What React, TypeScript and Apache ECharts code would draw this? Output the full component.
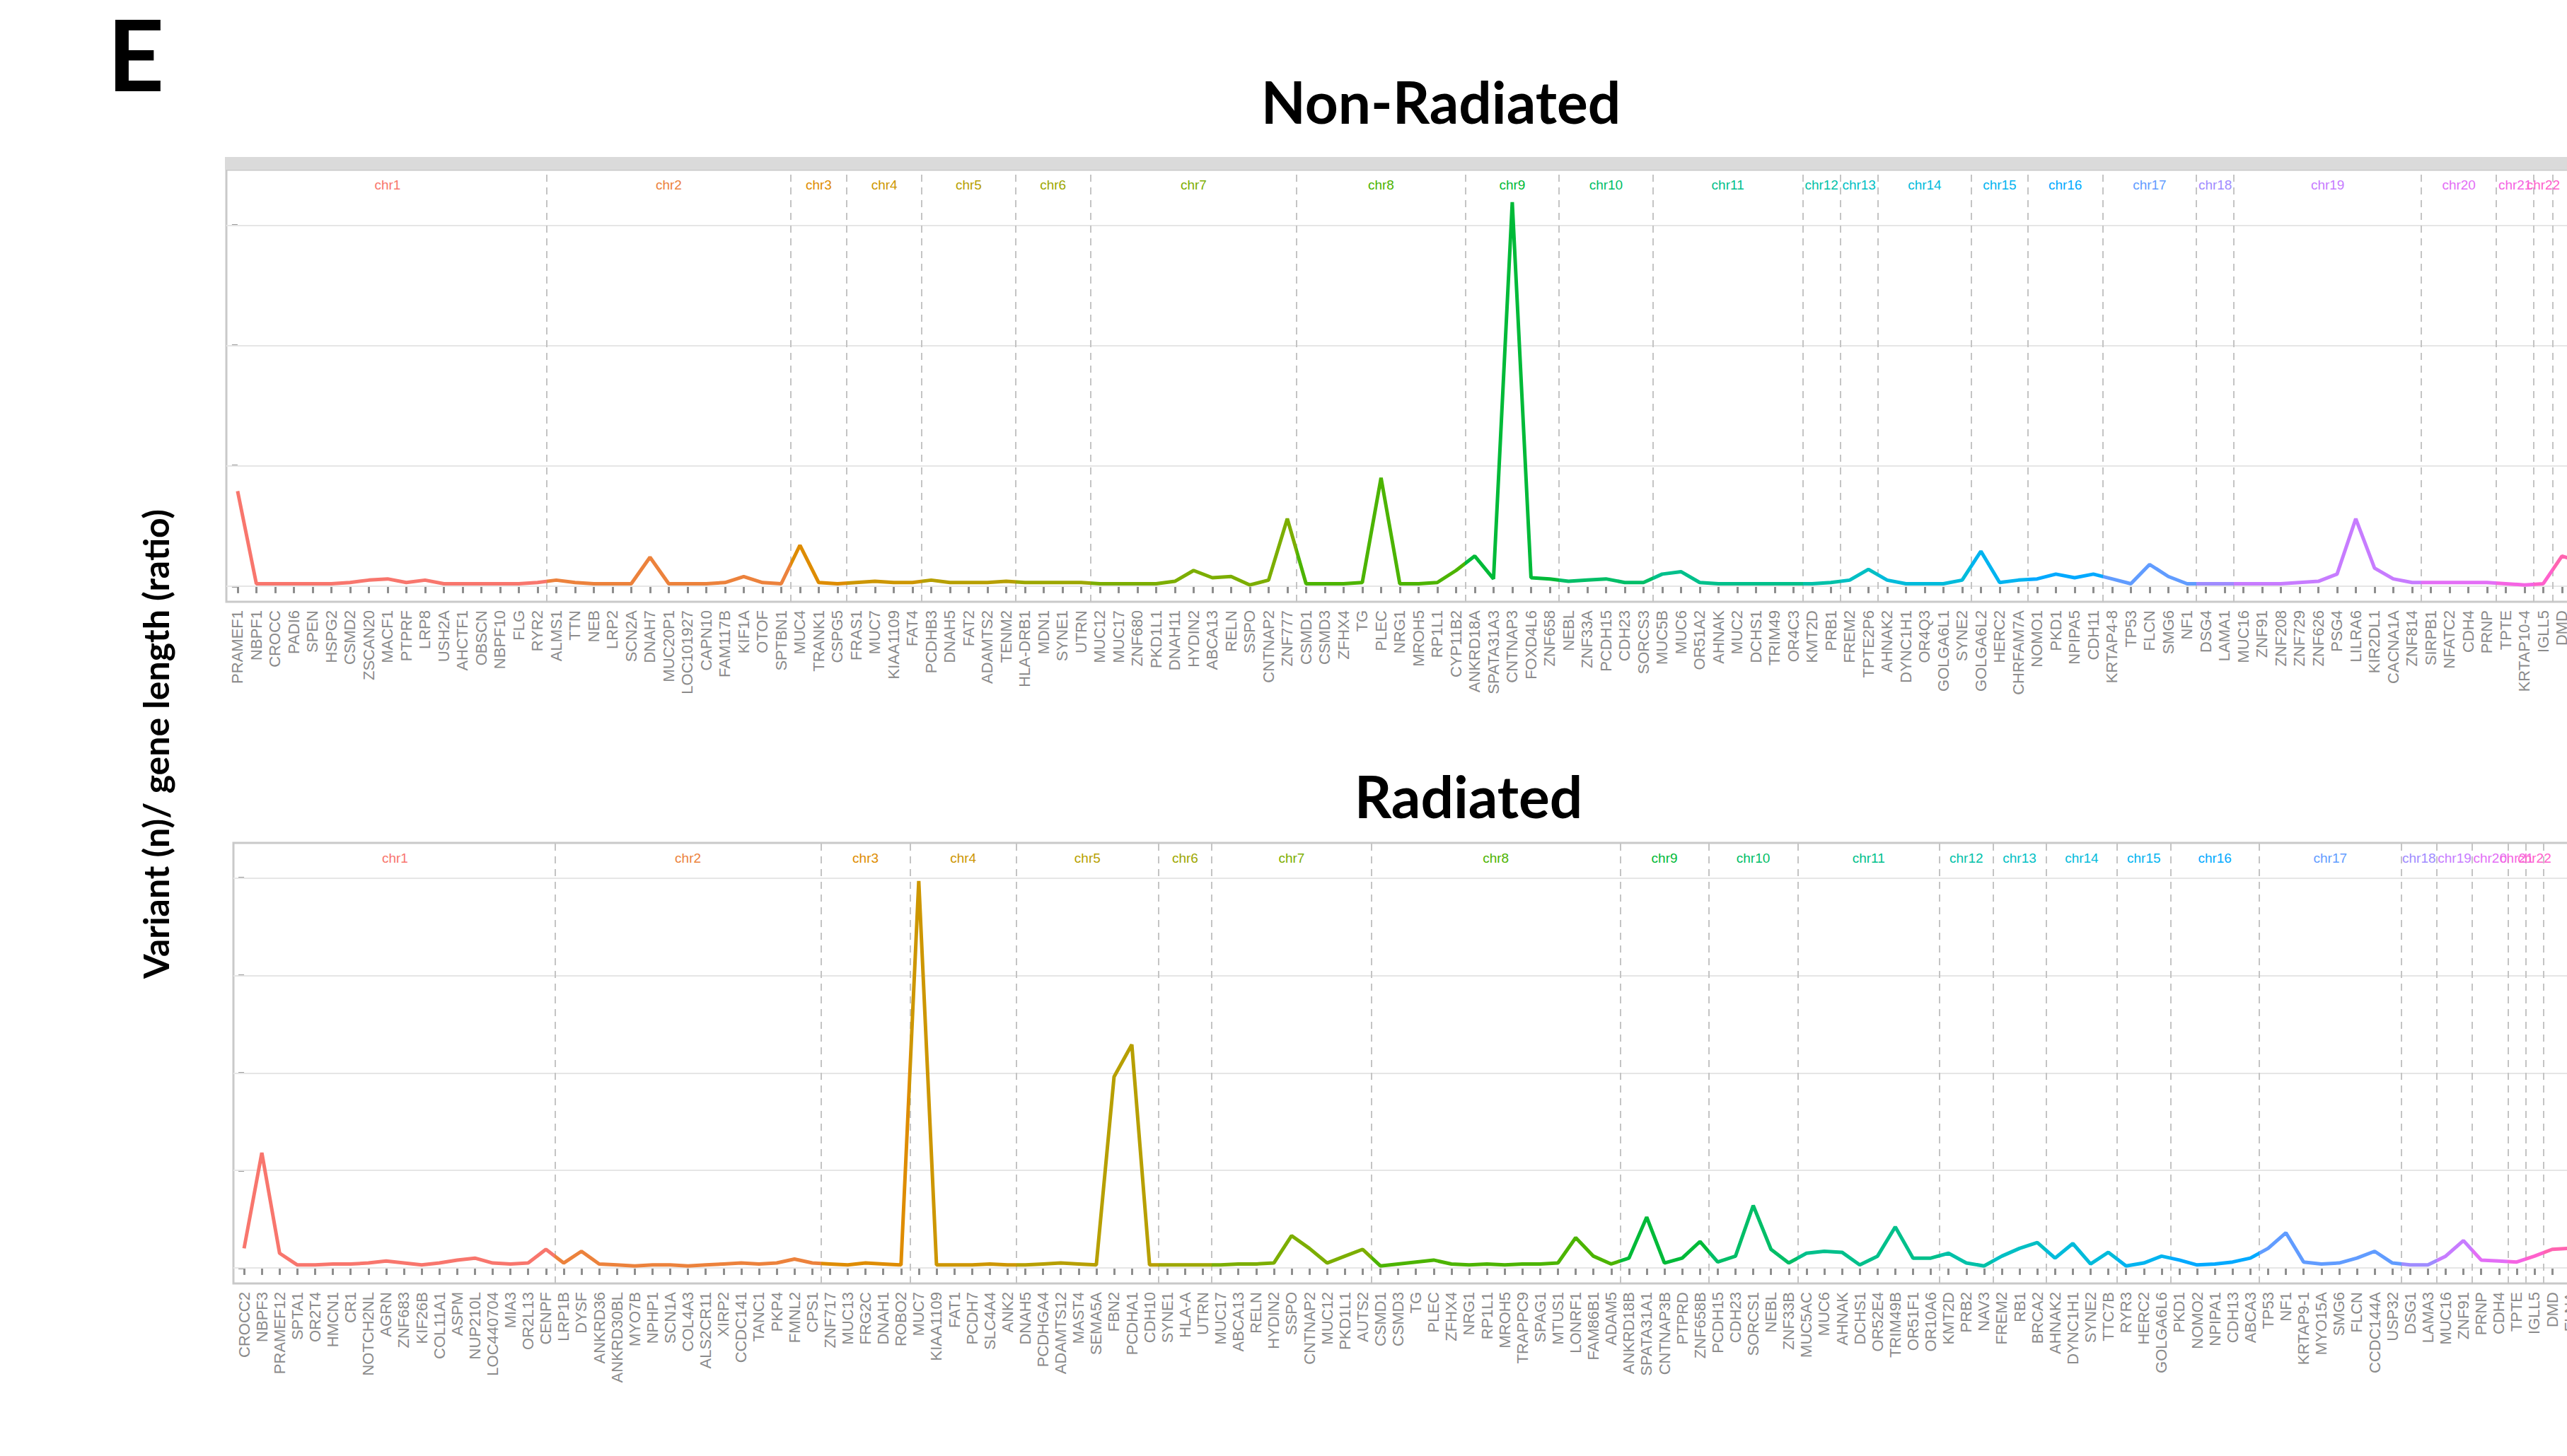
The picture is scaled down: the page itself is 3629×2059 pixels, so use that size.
import React, { useEffect, useRef } from "react";
import * as echarts from "echarts";

// ---------- DATA ----------
const CHR_NAMES = [
  "chr1", "chr2", "chr3", "chr4", "chr5", "chr6", "chr7", "chr8", "chr9", "chr10", "chr11", "chr12",
  "chr13", "chr14", "chr15", "chr16", "chr17", "chr18", "chr19", "chr20", "chr21", "chr22", "chrX",
];
const CHR_COLORS = [
  "#F8766D", "#EC823C", "#DE8C00", "#CD9600", "#B79F00", "#9DA700", "#7CAE00", "#4CB400",
  "#00BA38", "#00BE67", "#00C08B", "#00C1A8", "#00BFC4", "#00BBDB", "#00B4F0", "#00A9FF",
  "#619CFF", "#9F8CFF", "#C77CFF", "#E36EF6", "#F564E3", "#FF61CC", "#FF64B0",
];

// genes per chromosome (in CHR_NAMES order)
const TOP_COUNTS = [17, 13, 3, 4, 5, 4, 11, 9, 5, 5, 8, 2, 2, 5, 3, 4, 5, 2, 10, 4, 2, 1, 6];
const BOTTOM_COUNTS = [18, 15, 5, 6, 8, 3, 9, 14, 5, 5, 8, 3, 3, 4, 3, 5, 8, 2, 2, 2, 1, 1, 9];

const TOP_GENES = [
  "PRAMEF1", "NBPF1", "CROCC", "PADI6", "SPEN", "HSPG2", "CSMD2", "ZSCAN20", "MACF1", "PTPRF", "LRP8", "USH2A", "AHCTF1", "OBSCN", "NBPF10", "FLG", "RYR2",
  "ALMS1", "TTN", "NEB", "LRP2", "SCN2A", "DNAH7", "MUC20P1", "LOC101927", "CAPN10", "FAM117B", "KIF1A", "OTOF", "SPTBN1",
  "MUC4", "TRANK1", "CSPG5",
  "FRAS1", "MUC7", "KIAA1109", "FAT4",
  "PCDHB3", "DNAH5", "FAT2", "ADAMTS2", "TENM2",
  "HLA-DRB1", "MDN1", "SYNE1", "UTRN",
  "MUC12", "MUC17", "ZNF680", "PKD1L1", "DNAH11", "HYDIN2", "ABCA13", "RELN", "SSPO", "CNTNAP2", "ZNF777",
  "CSMD1", "CSMD3", "ZFHX4", "TG", "PLEC", "NRG1", "MROH5", "RP1L1", "CYP11B2",
  "ANKRD18A", "SPATA31A3", "CNTNAP3", "FOXD4L6", "ZNF658",
  "NEBL", "ZNF33A", "PCDH15", "CDH23", "SORCS3",
  "MUC5B", "MUC6", "OR51A2", "AHNAK", "MUC2", "DCHS1", "TRIM49", "OR4C3",
  "KMT2D", "PRB1",
  "FREM2", "TPTE2P6",
  "AHNAK2", "DYNC1H1", "OR4Q3", "GOLGA6L1", "SYNE2",
  "GOLGA6L2", "HERC2", "CHRFAM7A",
  "NOMO1", "PKD1", "NPIPA5", "CDH11",
  "KRTAP4-8", "TP53", "FLCN", "SMG6", "NF1",
  "DSG4", "LAMA1",
  "MUC16", "ZNF91", "ZNF208", "ZNF729", "ZNF626", "PSG4", "LILRA6", "KIR2DL1", "CACNA1A", "ZNF814",
  "SIRPB1", "NFATC2", "CDH4", "PRNP",
  "TPTE", "KRTAP10-4",
  "IGLL5",
  "DMD", "XIST", "FLNA", "MAGEC1", "SSX3", "OPHN1",
];

const BOTTOM_GENES = [
  "CROCC2", "NBPF3", "PRAMEF12", "SPTA1", "OR2T4", "HMCN1", "CR1", "NOTCH2NL", "AGRN", "ZNF683", "KIF26B", "COL11A1", "ASPM", "NUP210L", "LOC440704", "MIA3", "OR2L13", "CENPF",
  "LRP1B", "DYSF", "ANKRD36", "ANKRD30BL", "MYO7B", "NPHP1", "SCN1A", "COL4A3", "ALS2CR11", "XIRP2", "CCDC141", "TANC1", "PKP4", "FMNL2", "CPS1",
  "ZNF717", "MUC13", "FRG2C", "DNAH1", "ROBO2",
  "MUC7", "KIAA1109", "FAT1", "PCDH7", "SLC4A4", "ANK2",
  "DNAH5", "PCDHGA4", "ADAMTS12", "MAST4", "SEMA5A", "FBN2", "PCDHA1", "CDH10",
  "SYNE1", "HLA-A", "UTRN",
  "MUC17", "ABCA13", "RELN", "HYDIN2", "SSPO", "CNTNAP2", "MUC12", "PKD1L1", "AUTS2",
  "CSMD1", "CSMD3", "TG", "PLEC", "ZFHX4", "NRG1", "RP1L1", "MROH5", "TRAPPC9", "SPAG1", "MTUS1", "LONRF1", "FAM86B1", "ADAM5",
  "ANKRD18B", "SPATA31A1", "CNTNAP3B", "PTPRD", "ZNF658B",
  "PCDH15", "CDH23", "SORCS1", "NEBL", "ZNF33B",
  "MUC5AC", "MUC6", "AHNAK", "DCHS1", "OR52E4", "TRIM49B", "OR51F1", "OR10A6",
  "KMT2D", "PRB2", "NAV3",
  "FREM2", "RB1", "BRCA2",
  "AHNAK2", "DYNC1H1", "SYNE2", "TTC7B",
  "RYR3", "HERC2", "GOLGA6L6",
  "PKD1", "NOMO2", "NPIPA1", "CDH13", "ABCA3",
  "TP53", "NF1", "KRTAP9-1", "MYO15A", "SMG6", "FLCN", "CCDC144A", "USP32",
  "DSG1", "LAMA3",
  "MUC16", "ZNF91",
  "PRNP", "CDH4",
  "TPTE",
  "IGLL5",
  "DMD", "FLNA", "MAGEC1", "SSX1", "OPHN1", "XIST", "TSPAN7", "HUWE1", "ATRX",
];

// Variant (n) / gene length (ratio), one value per gene
const TOP_VALUES = [
  0.79, 0.02, 0.02, 0.02, 0.02, 0.02, 0.03, 0.05, 0.06, 0.03, 0.05, 0.02, 0.02, 0.02, 0.02, 0.02, 0.03,
  0.05, 0.03, 0.02, 0.02, 0.02, 0.24, 0.02, 0.02, 0.02, 0.03, 0.08, 0.03, 0.02,
  0.34, 0.03, 0.02,
  0.03, 0.04, 0.03, 0.03,
  0.05, 0.03, 0.03, 0.03, 0.04,
  0.03, 0.03, 0.03, 0.03,
  0.02, 0.02, 0.02, 0.02, 0.04, 0.13, 0.07, 0.08, 0.01, 0.05, 0.56,
  0.02, 0.02, 0.02, 0.03, 0.9, 0.02, 0.02, 0.03, 0.13,
  0.25, 0.06, 3.19, 0.07, 0.06,
  0.04, 0.05, 0.06, 0.03, 0.03,
  0.1, 0.12, 0.03, 0.02, 0.02, 0.02, 0.02, 0.02,
  0.02, 0.03,
  0.05, 0.14,
  0.05, 0.02, 0.02, 0.02, 0.05,
  0.29, 0.03, 0.05,
  0.06, 0.1, 0.07, 0.1,
  0.06, 0.02, 0.18, 0.08, 0.02,
  0.02, 0.02,
  0.02, 0.02, 0.02, 0.03, 0.04, 0.1, 0.56, 0.15, 0.06, 0.03,
  0.03, 0.03, 0.03, 0.03,
  0.02, 0.01,
  0.02,
  0.25, 0.2, 0.12, 0.08, 0.1, 0.06,
];

const BOTTOM_VALUES = [
  0.2, 1.18, 0.15, 0.03, 0.03, 0.04, 0.04, 0.05, 0.07, 0.05, 0.03, 0.05, 0.08, 0.1, 0.05, 0.04, 0.05, 0.19,
  0.05, 0.17, 0.04, 0.03, 0.02, 0.03, 0.03, 0.02, 0.03, 0.04, 0.05, 0.04, 0.05, 0.09, 0.05,
  0.04, 0.03, 0.05, 0.04, 0.03,
  3.97, 0.03, 0.03, 0.03, 0.04, 0.03,
  0.03, 0.04, 0.05, 0.04, 0.03, 1.96, 2.29, 0.03,
  0.03, 0.03, 0.03,
  0.03, 0.04, 0.04, 0.05, 0.33, 0.2, 0.05, 0.12, 0.19,
  0.02, 0.04, 0.06, 0.08, 0.04, 0.03, 0.04, 0.03, 0.04, 0.04, 0.05, 0.31, 0.12, 0.04,
  0.1, 0.52, 0.05, 0.1, 0.27,
  0.06, 0.12, 0.64, 0.19, 0.05,
  0.15, 0.17, 0.16, 0.03, 0.12, 0.42, 0.1, 0.1,
  0.15, 0.05, 0.02,
  0.12, 0.2, 0.26,
  0.1, 0.25, 0.04, 0.16,
  0.02, 0.05, 0.12,
  0.08, 0.03, 0.04, 0.06, 0.1,
  0.2, 0.36, 0.06, 0.04, 0.05, 0.1, 0.17, 0.05,
  0.03, 0.03,
  0.12, 0.28,
  0.08, 0.07,
  0.06,
  0.12,
  0.19, 0.2, 0.15, 0.1, 0.08, 0.06, 0.1, 0.07, 0.05,
];

const TOP_Y_GRID = [0, 1, 2, 3];
const BOTTOM_Y_GRID = [0, 1, 2, 3, 4];

const TITLE_TOP = "Non-Radiated";
const TITLE_BOTTOM = "Radiated";
const Y_TITLE = "Variant (n)/ gene length (ratio)";
const PANEL_TAG = "E";

// ---------- LAYOUT ----------
const CHART_W = 3900;
const CHART_H = 2059;
const TOP_PANEL = { left: 320, top: 240, height: 611, step: 26.5, yMin: -0.13, yMax: 3.46 };
const BOTTOM_PANEL = { left: 330, top: 1192, height: 623, step: 25.1, yMin: -0.16, yMax: 4.36 };

function chrRanges(counts: number[]) {
  const out: { name: string; color: string; start: number; end: number }[] = [];
  let s = 0;
  counts.forEach((c, k) => {
    out.push({ name: CHR_NAMES[k], color: CHR_COLORS[k], start: s, end: s + c - 1 });
    s += c;
  });
  return out;
}

function buildPanel(idx: number, panel: any, counts: number[], genes: string[], values: number[], yGrid: number[]) {
  const n = values.length;
  const ranges = chrRanges(counts);
  const indices = values.map((_, i) => i);
  const width = (n + 0.2) * panel.step;
  const grid = {
    left: panel.left,
    top: panel.top,
    width,
    height: panel.height,
    show: true,
    borderColor: "#c9c9c9",
    borderWidth: 3,
    backgroundColor: "#ffffff",
  };
  const xAxis = {
    type: "value",
    gridIndex: idx,
    min: -0.6,
    max: n - 0.4,
    axisLine: { show: false },
    splitLine: { show: false },
    axisTick: {
      show: true,
      customValues: indices,
      length: 10,
      lineStyle: { color: "#8e8e8e", width: 3 },
    },
    axisLabel: {
      show: true,
      customValues: indices,
      rotate: 90,
      margin: 12,
      fontSize: 22,
      color: "#8a8a8a",
      fontFamily: "Liberation Sans",
      formatter: (v: number) => genes[Math.round(v)] || "",
    },
  };
  const yAxis = {
    type: "value",
    gridIndex: idx,
    min: panel.yMin,
    max: panel.yMax,
    axisLine: { show: false },
    splitLine: { show: false },
    axisLabel: { show: false },
    axisTick: {
      show: true,
      customValues: yGrid,
      length: 8,
      lineStyle: { color: "#9a9a9a", width: 3 },
    },
  };
  const markLineData: any[] = [];
  yGrid.forEach((v) =>
    markLineData.push({ yAxis: v, lineStyle: { type: "solid", color: "#e6e6e6", width: 2 } })
  );
  ranges.slice(1).forEach((r) =>
    markLineData.push({ xAxis: r.start - 0.5, lineStyle: { type: [10, 8], color: "#c4c4c4", width: 2 } })
  );
  const series = {
    type: "line",
    xAxisIndex: idx,
    yAxisIndex: idx,
    data: values.map((v, i) => [i, v]),
    symbol: "none",
    z: 5,
    lineStyle: { width: 5 },
    markLine: {
      silent: true,
      symbol: "none",
      z: 1,
      label: { show: false },
      data: markLineData,
    },
    markArea: {
      silent: true,
      z: 1,
      label: { show: true, position: "insideTop", distance: 12, fontSize: 19, fontFamily: "Liberation Sans" },
      data: ranges.map((r) => [
        {
          name: r.name,
          xAxis: r.start - 0.5,
          itemStyle: { color: "rgba(0,0,0,0)" },
          label: { color: r.color },
        },
        { xAxis: r.end + 0.5 },
      ]),
    },
  };
  const visualMap = {
    type: "piecewise",
    show: false,
    seriesIndex: idx,
    dimension: 0,
    pieces: ranges.map((r) => ({ gte: r.start - 0.5, lt: r.end + 0.5, color: r.color })),
  };
  return { grid, xAxis, yAxis, series, visualMap, width };
}

function textStyle(text: string, size: number) {
  return {
    text,
    fontSize: size,
    fontWeight: "bold",
    fontFamily: "Lato",
    fill: "#000",
    align: "center",
    verticalAlign: "middle",
    textAlign: "center",
    textVerticalAlign: "middle",
  };
}

export default function App() {
  const ref = useRef<HTMLDivElement>(null);
  useEffect(() => {
    if (!ref.current) return;
    const chart = echarts.init(ref.current, undefined, { renderer: "svg" });
    const top = buildPanel(0, TOP_PANEL, TOP_COUNTS, TOP_GENES, TOP_VALUES, TOP_Y_GRID);
    const bot = buildPanel(1, BOTTOM_PANEL, BOTTOM_COUNTS, BOTTOM_GENES, BOTTOM_VALUES, BOTTOM_Y_GRID);
    const option: any = {
      animation: false,
      backgroundColor: "#ffffff",
      grid: [top.grid, bot.grid],
      xAxis: [top.xAxis, bot.xAxis],
      yAxis: [top.yAxis, bot.yAxis],
      series: [top.series, bot.series],
      visualMap: [top.visualMap, bot.visualMap],
      graphic: [
        {
          type: "rect",
          z: 10,
          shape: { x: TOP_PANEL.left - 2, y: TOP_PANEL.top - 18, width: top.width + 4, height: 18 },
          style: { fill: "#dadada" },
        },
        { type: "text", x: 192, y: 75, z: 10, style: textStyle(PANEL_TAG, 140) },
        { type: "text", x: 2037, y: 143, z: 10, style: textStyle(TITLE_TOP, 82) },
        { type: "text", x: 2076, y: 1125, z: 10, style: textStyle(TITLE_BOTTOM, 82) },
        {
          type: "text",
          x: 220,
          y: 1052,
          rotation: Math.PI / 2,
          z: 10,
          style: textStyle(Y_TITLE, 50),
        },
      ],
    };
    chart.setOption(option);
    return () => chart.dispose();
  }, []);
  return (
    <div
      style={{
        position: "fixed",
        left: 0,
        top: 0,
        width: "100vw",
        height: "100vh",
        overflow: "hidden",
        background: "#fff",
      }}
    >
      <div ref={ref} style={{ width: CHART_W, height: CHART_H }} />
    </div>
  );
}
